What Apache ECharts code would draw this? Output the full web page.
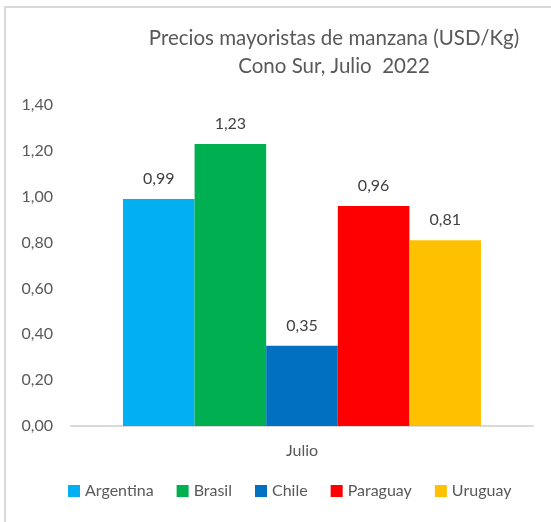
<!DOCTYPE html>
<html>
<head>
<meta charset="utf-8">
<script src="https://cdn.jsdelivr.net/npm/echarts@6/dist/echarts.min.js"></script>
<style>
  html, body { margin: 0; padding: 0; background: #fff; }
  #frame { position: absolute; left: 4px; top: 6px; width: 560px; height: 540px; border: 2px solid #d9d9d9; box-sizing: border-box; }
  #chart { position: absolute; left: 0; top: 0; width: 551px; height: 522px; }
</style>
</head>
<body>
<div id="frame"></div>
<div id="chart"></div>
<script>
// datos del gráfico
var categories = ['Julio'];
var countries = ['Argentina', 'Brasil', 'Chile', 'Paraguay', 'Uruguay'];
var prices = [0.99, 1.23, 0.35, 0.96, 0.81];
var colors = ['#00b0f0', '#00b050', '#0070c0', '#ff0000', '#ffc000'];
var yTicks = [0, 0.2, 0.4, 0.6, 0.8, 1.0, 1.2, 1.4];

var font = 'Lato, "Open Sans", sans-serif';
var fmt = function (v) { return v.toFixed(2).replace('.', ','); };

var series = countries.map(function (name, i) {
    return {
        name: name,
        type: 'bar',
        data: [prices[i]],
        barGap: '0%',
        barCategoryGap: '22.5%',
        itemStyle: { color: colors[i] },
        label: {
            show: true,
            position: 'top',
            distance: 12,
            formatter: function (p) { return fmt(p.value); },
            color: '#404040',
            fontFamily: font,
            fontSize: 16
        }
    };
});

var myChart = echarts.init(document.getElementById('chart'));
myChart.setOption({
    animation: false,
    color: colors,
    title: {
        text: 'Precios mayoristas de manzana (USD/Kg)\nCono Sur, Julio  2022',
        left: 329,
        top: 19,
        textAlign: 'center',
        textStyle: { color: '#595959', fontFamily: font, fontSize: 20.5, fontWeight: 'normal', lineHeight: 28 }
    },
    legend: {
        data: countries,
        bottom: 18,
        left: 63,
        itemWidth: 12,
        itemHeight: 12,
        itemGap: 23,
        icon: 'rect',
        textStyle: { color: '#595959', fontFamily: font, fontSize: 16 }
    },
    grid: { left: 71, right: 18, top: 105, bottom: 96, containLabel: false },
    xAxis: {
        type: 'category',
        data: categories,
        axisLine: { lineStyle: { color: '#d9d9d9', width: 2 } },
        axisTick: { show: false },
        axisLabel: { color: '#595959', fontFamily: font, fontSize: 16, margin: 17 }
    },
    yAxis: {
        type: 'value',
        min: yTicks[0],
        max: yTicks[yTicks.length - 1],
        interval: 0.2,
        splitLine: { show: false },
        axisLine: { show: false },
        axisTick: { show: false },
        axisLabel: { color: '#595959', fontFamily: font, fontSize: 16, margin: 18, formatter: fmt }
    },
    series: series
});
</script>
</body>
</html>
